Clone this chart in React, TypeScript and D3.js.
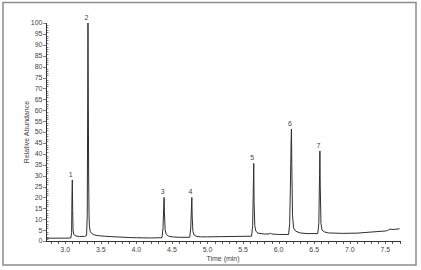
import React from "react";
import * as d3 from "d3";

const W = 421;
const H = 270;

// chromatogram trace: retention time (min)
const traceTime = [
  2.73, 2.9, 3.0, 3.08, 3.09, 3.095, 3.1, 3.105, 3.11, 3.12, 3.15, 3.2, 3.27, 3.3, 3.31, 3.315, 3.32,
  3.325, 3.33, 3.335, 3.34, 3.35, 3.37, 3.4, 3.45, 3.55, 3.7, 3.9, 4.0, 4.2, 4.36, 4.375, 4.385, 4.39,
  4.395, 4.405, 4.42, 4.45, 4.5, 4.6, 4.75, 4.765, 4.775, 4.78, 4.785, 4.795, 4.81, 4.84, 4.9, 5.0,
  5.2, 5.4, 5.62, 5.635, 5.645, 5.65, 5.655, 5.665, 5.68, 5.71, 5.8, 5.87, 5.885, 5.9, 6.0, 6.14, 6.155,
  6.165, 6.175, 6.18, 6.185, 6.195, 6.21, 6.24, 6.3, 6.4, 6.55, 6.565, 6.575, 6.58, 6.585, 6.595, 6.61,
  6.64, 6.7, 6.9, 7.1, 7.3, 7.5, 7.53, 7.56, 7.62, 7.7,
];
// relative abundance (%)
const traceAbundance = [
  1.3, 1.3, 1.3, 1.4, 4, 20, 28, 14, 5, 3, 2.3, 2.1, 2.1, 2.5, 12, 55, 100,
  62, 28, 12, 7, 4.5, 3.5, 2.9, 2.5, 2.2, 1.9, 1.6, 1.5, 1.4, 1.5, 6, 16, 20,
  13, 5, 3, 2.3, 1.9, 1.7, 1.7, 6, 16, 20, 11, 4.5, 2.8, 2.2, 1.9, 1.9,
  2.0, 2.1, 2.2, 7, 26, 35.6, 18, 7, 4.5, 3.6, 3.2, 3.2, 3.7, 3.2, 3.0, 3.0, 8,
  24, 45, 51.4, 35, 12, 6, 4.5, 3.7, 3.4, 3.4, 8, 30, 41.3, 25, 8, 5,
  4.2, 3.7, 3.5, 3.6, 4.1, 4.6, 4.8, 5.4, 5.3, 5.6,
];

const peakLabels = ["1", "2", "3", "4", "5", "6", "7"];
const peakTimes = [3.1, 3.32, 4.39, 4.78, 5.65, 6.18, 6.58];
const peakHeights = [28, 100, 20, 20, 35.6, 51.4, 41.3];

const xMajorTicks = [3.0, 3.5, 4.0, 4.5, 5.0, 5.5, 6.0, 6.5, 7.0, 7.5];
const yMajorTicks = [0, 5, 10, 15, 20, 25, 30, 35, 40, 45, 50, 55, 60, 65, 70, 75, 80, 85, 90, 95, 100];

const xLabel = "Time (min)";
const yLabel = "Relative Abundance";

export default function App() {
  const x = d3.scaleLinear().domain([2.73, 7.72]).range([46, 401]);
  const y = d3.scaleLinear().domain([0, 100]).range([241, 23]);

  const pts: [number, number][] = traceTime.map((t, i) => [t, traceAbundance[i]]);
  const line = d3
    .line<[number, number]>()
    .x((d) => x(d[0]))
    .y((d) => y(d[1]));

  const xMinor = d3.range(28, 78).map((v) => v / 10).filter((v) => v >= 2.73 && v <= 7.72);
  const yMinor = d3.range(0, 101);

  const font = "'Liberation Sans', Arial, sans-serif";
  const textColor = "#444";
  const axisColor = "#333";

  return (
    <svg
      width={W}
      height={H}
      style={{ position: "absolute", left: 0, top: 0, background: "#fff" }}
      fontFamily={font}
    >
      <rect x={3} y={2.5} width={413} height={262.5} fill="none" stroke="#8c8c8c" strokeWidth={1.5} />

      {/* y axis */}
      <line x1={46.5} x2={46.5} y1={y(100)} y2={y(0)} stroke={axisColor} strokeWidth={1} />
      {yMinor.map((v) => (
        <line
          key={"ym" + v}
          x1={46.5}
          x2={v % 5 === 0 ? 43 : 48.5}
          y1={Math.round(y(v)) + 0.5}
          y2={Math.round(y(v)) + 0.5}
          stroke={axisColor}
          strokeWidth={0.6}
        />
      ))}
      {yMajorTicks.map((v) => (
        <text
          key={"yl" + v}
          x={42.5}
          y={y(v)}
          dy="0.35em"
          textAnchor="end"
          fontSize={7}
          fill={textColor}
        >
          {v}
        </text>
      ))}

      {/* x axis */}
      <line x1={46} x2={401} y1={241.5} y2={241.5} stroke={axisColor} strokeWidth={1} />
      {xMinor.map((v) => (
        <line
          key={"xm" + v}
          x1={Math.round(x(v)) + 0.5}
          x2={Math.round(x(v)) + 0.5}
          y1={241.5}
          y2={244}
          stroke={axisColor}
          strokeWidth={0.8}
        />
      ))}
      {xMajorTicks.map((v) => (
        <text key={"xl" + v} x={x(v)} y={252} textAnchor="middle" fontSize={7} fill={textColor}>
          {v.toFixed(1)}
        </text>
      ))}

      <text x={223} y={261} textAnchor="middle" fontSize={7} fill={textColor}>
        {xLabel}
      </text>
      <text
        transform={`translate(29,${y(50)}) rotate(-90)`}
        textAnchor="middle"
        fontSize={7}
        fill={textColor}
      >
        {yLabel}
      </text>

      {/* trace */}
      <path d={line(pts) || ""} fill="none" stroke="#2e2e2e" strokeWidth={1} strokeLinejoin="round" />

      {/* peak labels */}
      {peakLabels.map((l, i) => (
        <text
          key={"pk" + l}
          x={x(peakTimes[i]) - 1.5}
          y={y(peakHeights[i]) - 3}
          textAnchor="middle"
          fontSize={7}
          fill={textColor}
        >
          {l}
        </text>
      ))}
    </svg>
  );
}
